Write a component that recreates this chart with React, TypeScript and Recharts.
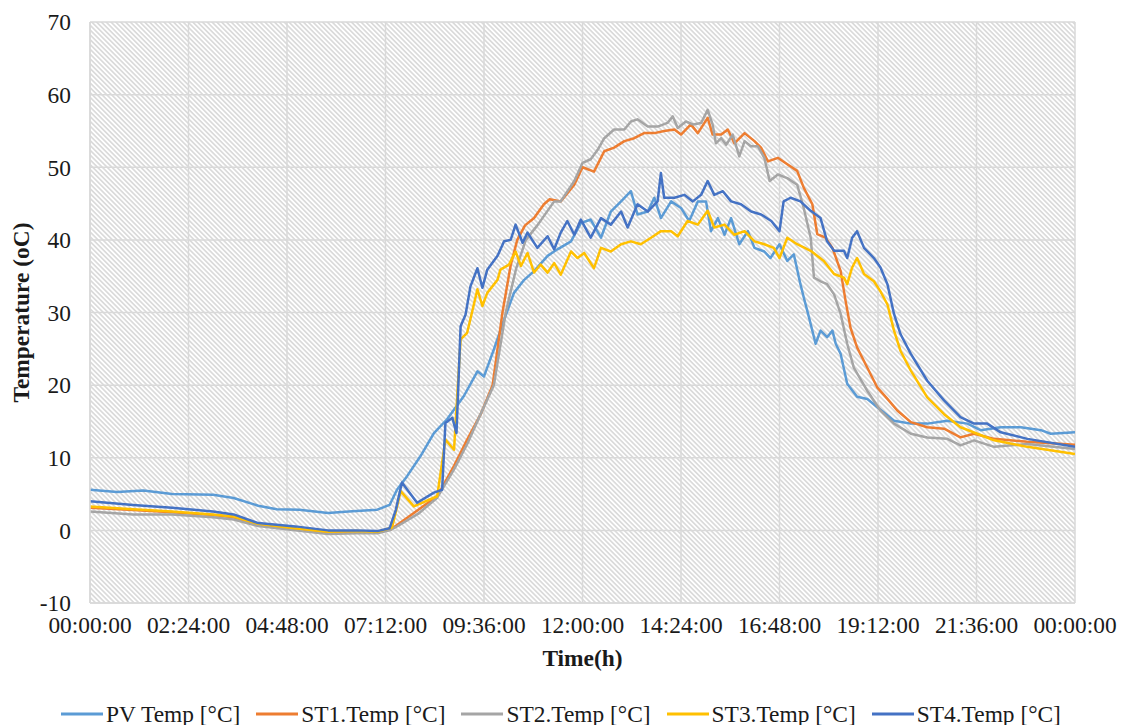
import React from "react";
import { LineChart, Line, XAxis, YAxis, CartesianGrid, Legend, Label } from "recharts";

// ---- Data (hours since midnight, temperature in °C) ----
const xTickHours = [0, 2.4, 4.8, 7.2, 9.6, 12, 14.4, 16.8, 19.2, 21.6, 24];
const yTicks = [-10, 0, 10, 20, 30, 40, 50, 60, 70];

const pvTime = [0, 0.66, 1.3, 2.0, 3.0, 3.5, 4.1, 4.55, 5.1, 5.8, 6.3, 7.0, 7.3, 7.48, 7.73, 8.05, 8.38, 8.7, 9.11, 9.44, 9.6, 9.84, 10.09, 10.33, 10.58, 10.82, 11.15, 11.39, 11.72, 11.96, 12.2, 12.45, 12.69, 12.94, 13.18, 13.34, 13.59, 13.75, 13.91, 14.16, 14.4, 14.6, 14.81, 15.01, 15.13, 15.3, 15.46, 15.62, 15.82, 16.03, 16.19, 16.43, 16.58, 16.8, 16.99, 17.15, 17.31, 17.39, 17.52, 17.68, 17.8, 17.96, 18.09, 18.17, 18.29, 18.45, 18.69, 18.94, 19.18, 19.59, 20.0, 20.4, 20.89, 21.38, 21.7, 22.19, 22.68, 23.17, 23.41, 24];
const pvTemp = [5.6, 5.3, 5.5, 5.0, 4.9, 4.45, 3.4, 2.9, 2.85, 2.4, 2.6, 2.85, 3.5, 5.6, 7.5, 10.2, 13.4, 15.3, 18.5, 21.9, 21.2, 24.9, 29.0, 32.7, 34.5, 35.7, 37.8, 38.7, 39.8, 42.3, 42.8, 40.3, 43.9, 45.3, 46.7, 43.5, 43.9, 45.8, 43.0, 45.3, 44.4, 42.6, 45.3, 45.3, 41.2, 43.0, 40.7, 43.0, 39.4, 41.2, 38.9, 38.4, 37.5, 39.4, 37.1, 38.0, 33.9, 32.1, 29.3, 25.7, 27.5, 26.6, 27.5, 25.7, 24.3, 20.2, 18.4, 18.1, 17.0, 15.1, 14.7, 14.7, 15.1, 14.7, 13.8, 14.2, 14.2, 13.8, 13.3, 13.5];

const st1Time = [0, 1.05, 2.0, 3.0, 3.5, 4.1, 5.0, 5.8, 6.5, 7.0, 7.32, 7.89, 8.46, 8.87, 9.19, 9.52, 9.81, 10.05, 10.25, 10.41, 10.6, 10.82, 11.06, 11.2, 11.47, 11.8, 12.0, 12.28, 12.53, 12.77, 13.02, 13.26, 13.5, 13.75, 13.99, 14.24, 14.4, 14.64, 14.81, 15.05, 15.17, 15.38, 15.54, 15.7, 15.95, 16.19, 16.35, 16.52, 16.76, 16.99, 17.23, 17.39, 17.6, 17.72, 17.92, 18.09, 18.29, 18.41, 18.53, 18.69, 18.94, 19.18, 19.43, 19.67, 20.0, 20.4, 20.81, 21.21, 21.54, 22.03, 22.84, 24];
const st1Temp = [3.1, 2.8, 2.5, 2.1, 1.8, 0.8, 0.2, -0.3, -0.2, -0.3, 0.1, 2.4, 4.7, 8.9, 12.5, 16.0, 20.0, 30.0, 36.5, 40.0, 42.0, 43.0, 44.9, 45.6, 45.3, 47.6, 50.0, 49.4, 52.2, 52.7, 53.6, 54.0, 54.7, 54.7, 55.0, 55.2, 54.5, 55.9, 54.7, 56.8, 54.5, 54.5, 55.2, 53.3, 54.7, 53.6, 52.7, 50.8, 51.3, 50.4, 49.5, 47.2, 44.9, 40.8, 40.3, 38.9, 35.7, 31.6, 27.9, 25.2, 22.4, 19.7, 18.1, 16.5, 14.9, 14.2, 14.0, 12.8, 13.3, 12.6, 12.2, 11.8];

const st2Time = [0, 1.05, 2.0, 3.0, 3.5, 4.1, 5.0, 5.8, 6.5, 7.0, 7.3, 7.5, 8.0, 8.46, 8.87, 9.2, 9.5, 9.84, 10.13, 10.38, 10.62, 10.9, 11.31, 11.47, 11.8, 12.0, 12.2, 12.37, 12.53, 12.77, 13.02, 13.18, 13.34, 13.59, 13.83, 14.07, 14.2, 14.32, 14.52, 14.69, 14.89, 15.05, 15.17, 15.25, 15.38, 15.5, 15.66, 15.82, 15.95, 16.1, 16.27, 16.43, 16.56, 16.76, 16.99, 17.23, 17.39, 17.56, 17.64, 17.8, 17.96, 18.13, 18.29, 18.45, 18.61, 18.94, 19.26, 19.59, 20.0, 20.4, 20.89, 21.21, 21.54, 22.03, 22.84, 24];
const st2Temp = [2.6, 2.2, 2.2, 1.8, 1.5, 0.6, 0.0, -0.5, -0.4, -0.4, 0.0, 0.6, 2.3, 4.5, 8.4, 12.0, 15.8, 20.0, 30.0, 36.0, 40.0, 42.0, 45.3, 45.3, 48.1, 50.6, 51.1, 52.4, 54.0, 55.2, 55.2, 56.3, 56.6, 55.6, 55.6, 56.1, 57.0, 55.4, 56.3, 55.9, 56.1, 57.9, 55.9, 53.3, 54.0, 53.1, 54.5, 51.5, 53.6, 52.9, 52.9, 51.3, 48.1, 49.0, 48.5, 47.6, 44.4, 40.3, 34.8, 34.3, 33.9, 32.5, 29.8, 25.7, 22.4, 19.2, 16.5, 14.7, 13.3, 12.8, 12.6, 11.7, 12.4, 11.5, 11.9, 11.2];

const st3Time = [0, 1.05, 2.0, 3.0, 3.5, 4.1, 5.0, 5.8, 6.5, 7.0, 7.36, 7.57, 7.89, 8.46, 8.66, 8.87, 9.03, 9.19, 9.44, 9.56, 9.68, 9.93, 10.0, 10.21, 10.37, 10.5, 10.66, 10.82, 10.98, 11.15, 11.31, 11.47, 11.72, 11.88, 12.04, 12.28, 12.45, 12.69, 12.94, 13.18, 13.42, 13.67, 13.91, 14.16, 14.32, 14.56, 14.81, 15.05, 15.21, 15.46, 15.7, 15.95, 16.19, 16.43, 16.66, 16.8, 16.99, 17.23, 17.56, 17.88, 18.13, 18.37, 18.45, 18.57, 18.69, 18.86, 19.1, 19.26, 19.43, 19.59, 19.75, 20.0, 20.4, 20.81, 21.21, 21.62, 22.03, 22.84, 24];
const st3Temp = [3.3, 2.9, 2.6, 2.2, 1.9, 0.9, 0.3, -0.2, -0.1, -0.2, 0.4, 5.4, 3.3, 4.7, 12.5, 11.1, 26.3, 27.2, 33.2, 30.9, 32.7, 34.5, 35.9, 36.6, 38.4, 36.4, 38.2, 35.5, 36.6, 35.5, 36.8, 35.2, 38.4, 37.5, 38.2, 36.1, 38.9, 38.4, 39.4, 39.8, 39.4, 40.3, 41.2, 41.2, 40.5, 42.6, 42.1, 44.0, 41.7, 42.1, 40.7, 41.2, 39.8, 39.4, 38.9, 37.5, 40.3, 39.4, 38.5, 37.1, 35.3, 34.8, 33.9, 36.2, 37.5, 35.3, 34.3, 32.9, 31.1, 27.5, 24.7, 22.0, 18.3, 16.0, 14.2, 13.3, 12.4, 11.5, 10.5];

const st4Time = [0, 1.05, 2.0, 3.0, 3.5, 4.1, 5.0, 5.8, 6.5, 7.0, 7.3, 7.45, 7.6, 7.97, 8.38, 8.58, 8.66, 8.83, 8.93, 9.03, 9.15, 9.27, 9.44, 9.56, 9.68, 9.93, 10.09, 10.25, 10.37, 10.54, 10.66, 10.9, 11.15, 11.31, 11.47, 11.63, 11.8, 11.96, 12.2, 12.45, 12.69, 12.94, 13.1, 13.34, 13.59, 13.83, 13.91, 13.99, 14.24, 14.48, 14.69, 14.89, 15.05, 15.21, 15.42, 15.62, 15.86, 16.11, 16.35, 16.6, 16.8, 16.9, 17.07, 17.31, 17.56, 17.8, 17.96, 18.13, 18.37, 18.45, 18.57, 18.69, 18.86, 19.1, 19.26, 19.43, 19.59, 19.75, 20.0, 20.4, 20.81, 21.21, 21.54, 21.86, 22.19, 22.84, 24];
const st4Temp = [4.0, 3.5, 3.1, 2.6, 2.2, 1.0, 0.55, 0.0, 0.0, -0.1, 0.3, 2.8, 6.6, 3.8, 5.2, 5.6, 14.8, 15.5, 13.4, 28.1, 29.7, 33.6, 36.1, 33.4, 35.9, 37.8, 39.8, 40.0, 42.1, 39.6, 41.0, 38.9, 40.5, 38.7, 41.0, 42.6, 40.7, 42.8, 40.3, 43.0, 42.1, 43.9, 41.7, 44.9, 43.9, 45.3, 49.2, 45.8, 45.8, 46.2, 45.3, 46.2, 48.1, 46.2, 46.7, 45.3, 44.9, 43.9, 43.5, 42.6, 41.2, 45.3, 45.8, 45.3, 44.0, 43.0, 39.8, 38.5, 38.5, 37.5, 40.3, 41.2, 38.9, 37.5, 36.2, 33.9, 29.8, 27.0, 24.3, 20.6, 17.9, 15.6, 14.7, 14.7, 13.5, 12.6, 11.5];

const seriesNames = ["PV Temp [°C]", "ST1.Temp [°C]", "ST2.Temp [°C]", "ST3.Temp [°C]", "ST4.Temp [°C]"];
const seriesColors = ["#5B9BD5", "#ED7D31", "#A5A5A5", "#FFC000", "#4472C4"];

const toPoints = (ts: number[], vs: number[]) => ts.map((t, i) => ({ t, v: vs[i] }));
const seriesData = [
  toPoints(pvTime, pvTemp),
  toPoints(st1Time, st1Temp),
  toPoints(st2Time, st2Temp),
  toPoints(st3Time, st3Temp),
  toPoints(st4Time, st4Temp),
];

const FONT = '"Liberation Serif", "Times New Roman", serif';
const TEXT = "#1a1a1a";
const FS = 23.4;

const fmtTime = (h: number) => {
  const mins = Math.round(h * 60) % (24 * 60);
  const hh = Math.floor(mins / 60);
  const mm = mins % 60;
  const p = (n: number) => String(n).padStart(2, "0");
  return `${p(hh)}:${p(mm)}:00`;
};

const renderLegend = () => (
  <div
    style={{
      height: 52,
      boxSizing: "border-box",
      paddingTop: 30,
      display: "flex",
      justifyContent: "center",
      alignItems: "center",
      fontFamily: FONT,
      fontSize: FS,
      color: TEXT,
    }}
  >
    {seriesNames.map((n, i) => (
      <div key={n} style={{ display: "flex", alignItems: "center", marginRight: i < seriesNames.length - 1 ? 16 : 0, height: 22 }}>
        <svg width={42} height={6} style={{ marginRight: 3 }}>
          <line x1={0} y1={3} x2={42} y2={3} stroke={seriesColors[i]} strokeWidth={3} />
        </svg>
        <span style={{ lineHeight: "22px", whiteSpace: "nowrap" }}>{n}</span>
      </div>
    ))}
  </div>
);

export default function App() {
  return (
    <div style={{ position: "absolute", left: 0, top: 0, width: 1122, height: 725, background: "#fff" }}>
      <LineChart width={1122} height={725} margin={{ top: 22, right: 47, left: 0, bottom: 0 }}>
        <defs>
          <pattern id="hatch" width="3.4" height="3.4" patternUnits="userSpaceOnUse" patternTransform="rotate(45)">
            <rect width="3.4" height="3.4" fill="#ffffff" />
            <line x1="0" y1="1.7" x2="3.4" y2="1.7" stroke="#d6d6d6" strokeWidth="1.5" />
          </pattern>
        </defs>
        <CartesianGrid stroke="#d9d9d9" strokeWidth={1.5} fill="url(#hatch)" fillOpacity={1} />
        <XAxis
          type="number"
          dataKey="t"
          domain={[0, 24]}
          ticks={xTickHours}
          tickFormatter={fmtTime}
          allowDataOverflow
          height={70}
          tickLine={false}
          tickSize={0}
          tickMargin={13}
          axisLine={{ stroke: "#d9d9d9", strokeWidth: 1.5 }}
          tick={{ fill: TEXT, fontSize: FS, fontFamily: FONT }}
          interval={0}
        >
          <Label value="Time(h)" position="insideBottom" offset={7} style={{ fill: TEXT, fontSize: FS, fontFamily: FONT, fontWeight: "bold" }} />
        </XAxis>
        <YAxis
          type="number"
          domain={[-10, 70]}
          ticks={yTicks}
          width={90}
          tickLine={false}
          tickSize={0}
          tickMargin={19}
          axisLine={{ stroke: "#d9d9d9", strokeWidth: 1.5 }}
          tick={{ fill: TEXT, fontSize: FS, fontFamily: FONT }}
          interval={0}
        >
          <Label
            value="Temperature (oC)"
            angle={-90}
            position="insideLeft"
            offset={21}
            style={{ textAnchor: "middle", fill: TEXT, fontSize: FS, fontFamily: FONT, fontWeight: "bold" }}
          />
        </YAxis>
        <Legend verticalAlign="bottom" content={renderLegend} wrapperStyle={{ left: 0, width: 1122, bottom: 0 }} />
        {seriesData.map((d, i) => (
          <Line
            key={seriesNames[i]}
            data={d}
            dataKey="v"
            name={seriesNames[i]}
            type="linear"
            stroke={seriesColors[i]}
            strokeWidth={2.5}
            dot={false}
            activeDot={false}
            isAnimationActive={false}
            strokeLinejoin="round"
          />
        ))}
      </LineChart>
    </div>
  );
}
